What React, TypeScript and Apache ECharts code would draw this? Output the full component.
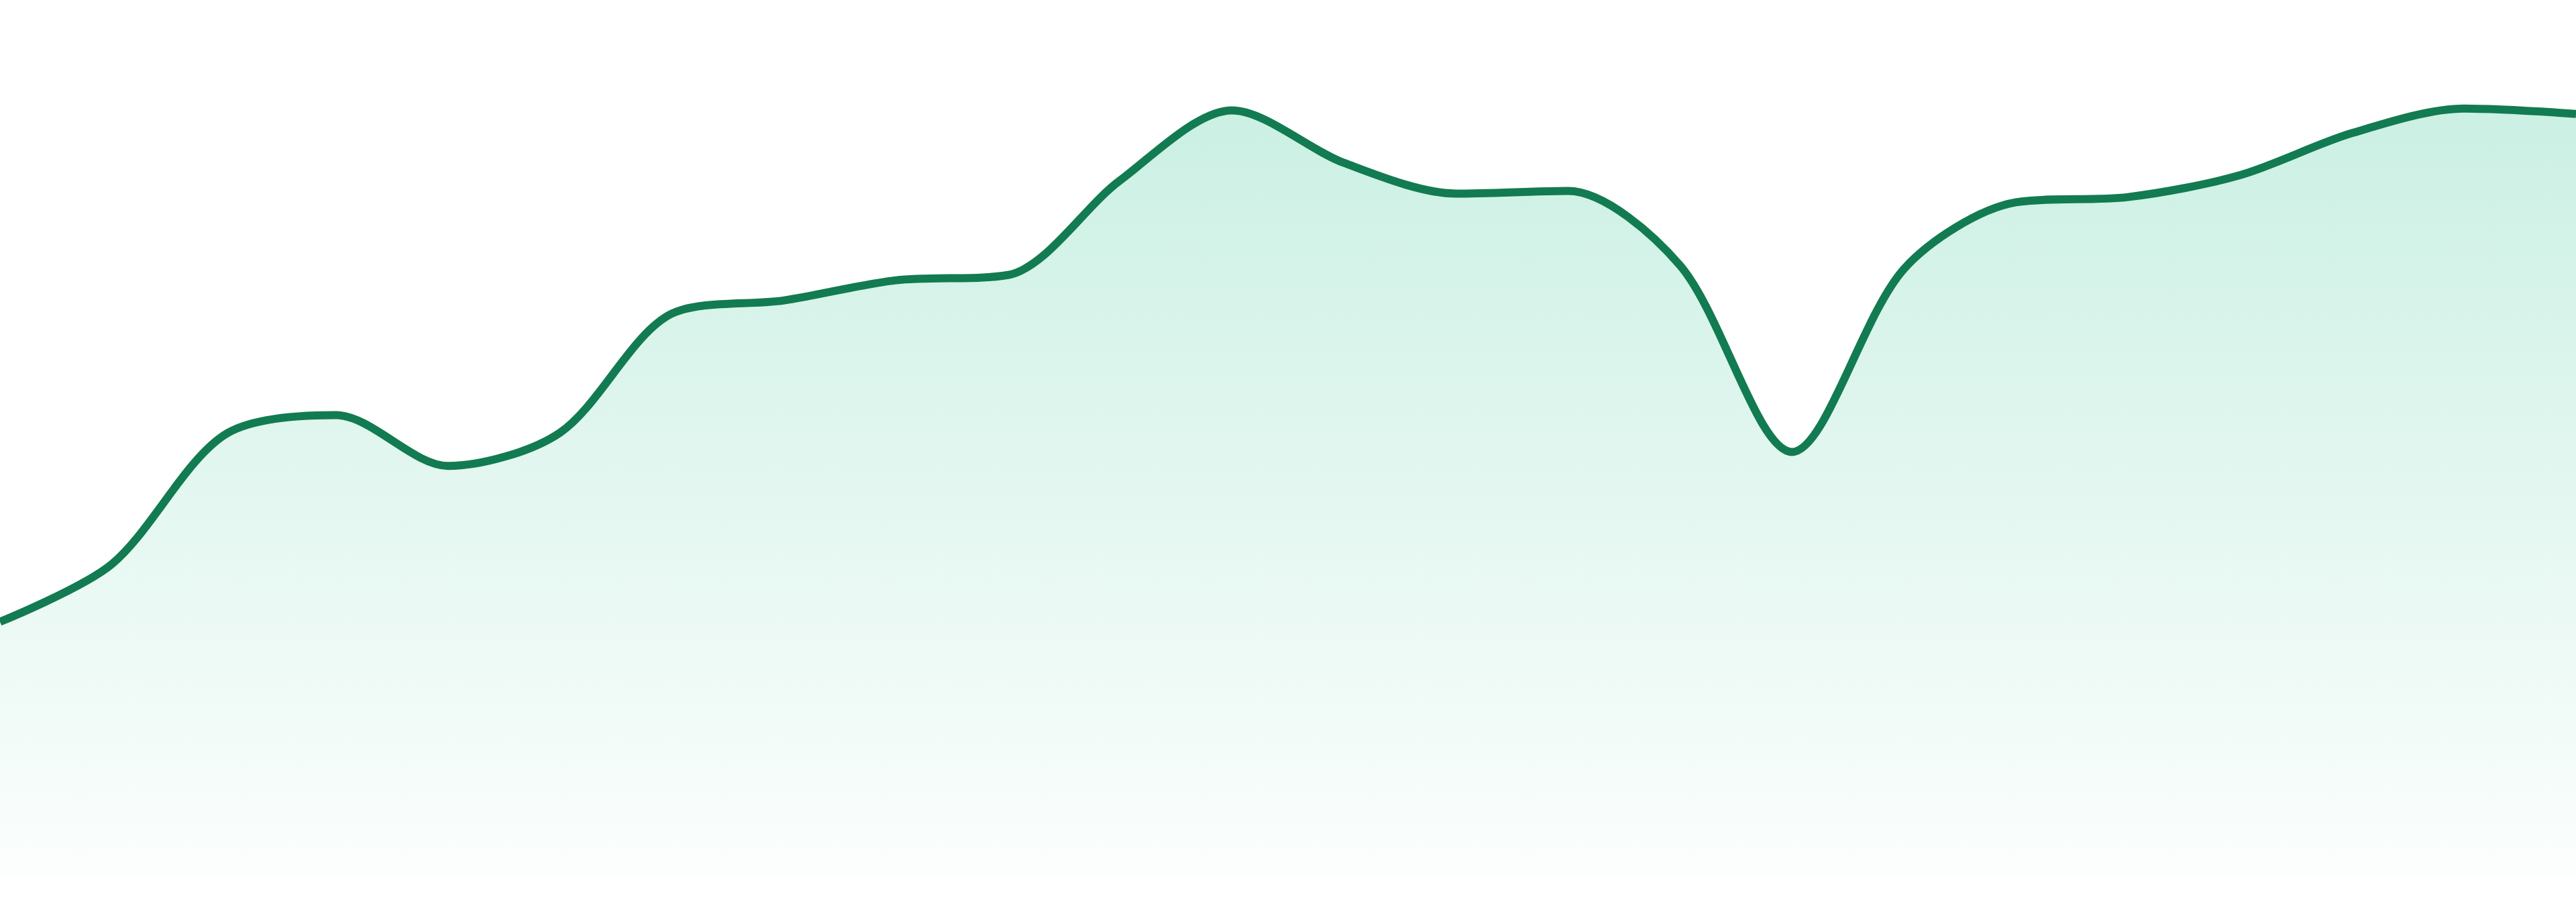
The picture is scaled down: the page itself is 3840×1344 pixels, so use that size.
import { useEffect, useRef } from "react";
import * as echarts from "echarts";

// 24 hourly samples, x axis hidden
const hours = [
  "00:00", "01:00", "02:00", "03:00", "04:00", "05:00",
  "06:00", "07:00", "08:00", "09:00", "10:00", "11:00",
  "12:00", "13:00", "14:00", "15:00", "16:00", "17:00",
  "18:00", "19:00", "20:00", "21:00", "22:00", "23:00",
];

const values = [
  29.0, 35.6, 50.3, 52.6, 46.8, 50.6, 64.2, 65.7, 68.0, 68.6, 79.4, 87.4,
  81.4, 77.9, 78.2, 69.7, 48.4, 69.3, 76.9, 77.5, 80.0, 84.8, 87.6, 87.0,
];

const yMin = 0;
const yMax = 100;

const LINE_COLOR = "#127b51";

export default function App() {
  const chartRef = useRef<HTMLDivElement>(null);

  useEffect(() => {
    if (!chartRef.current) return;
    // page has default 8px body margin, drop it so the chart fills the window
    document.body.style.margin = "0";
    const chart = echarts.init(chartRef.current, null, { renderer: "svg" });

    chart.setOption({
      animation: false,
      backgroundColor: "#ffffff",
      grid: {
        left: 0,
        right: 0,
        top: 0,
        bottom: 39,
        containLabel: false,
      },
      tooltip: { show: false },
      xAxis: {
        type: "category",
        data: hours,
        boundaryGap: false,
        show: false,
      },
      yAxis: {
        type: "value",
        min: yMin,
        max: yMax,
        show: false,
        splitLine: { show: false },
      },
      series: [
        {
          type: "line",
          data: values,
          smooth: 0.3,
          showSymbol: false,
          lineStyle: {
            color: LINE_COLOR,
            width: 12,
          },
          areaStyle: {
            color: new echarts.graphic.LinearGradient(0, 0, 0, 1, [
              { offset: 0, color: "rgba(16, 185, 129, 0.31)" },
              { offset: 1, color: "rgba(16, 185, 129, 0.02)" },
            ]),
          },
        },
      ],
    });

    return () => {
      chart.dispose();
    };
  }, []);

  return <div ref={chartRef} style={{ width: "3840px", height: "1344px" }} />;
}
